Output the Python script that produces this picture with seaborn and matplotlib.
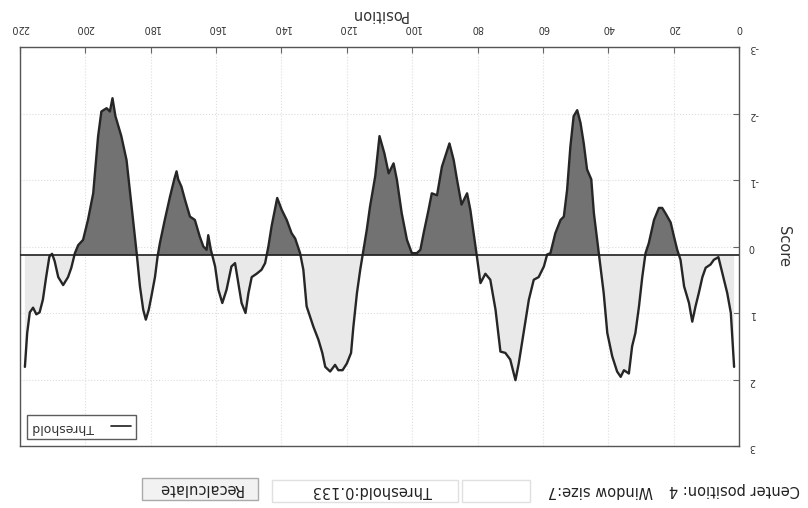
import numpy as np
import pandas as pd
import matplotlib
matplotlib.use("Agg")
import matplotlib.pyplot as plt
from matplotlib.patches import Rectangle
import seaborn as sns

# ---- data ----
positions = [1.5, 2.5, 3.6, 4.6, 5.6, 6.3, 7.7, 8.7, 10.2, 11.2, 12.3, 13.3, 14.3, 15.3, 16.8,
             17.9, 18.9, 19.9, 20.9, 22.5, 23.5, 24.5, 26.0, 27.6, 28.6, 29.6, 30.6, 31.7, 32.7,
             33.7, 35.2, 36.2, 37.3, 38.8, 40.3, 41.4, 42.4, 43.4, 44.4, 45.2, 46.5, 47.5, 48.5,
             49.5, 50.6, 51.6, 52.6, 53.6, 54.6, 56.2, 57.7, 58.7, 59.7, 61.3, 62.8, 64.3, 65.9,
             67.4, 68.4, 70.0, 71.5, 73.0, 74.5, 76.1, 77.6, 79.1, 80.2, 81.2, 82.2, 83.2, 84.9,
             86.3, 87.3, 88.6, 90.9, 92.4, 94.0, 95.0, 96.5, 97.5, 98.6, 100.1, 101.6, 103.2,
             104.7, 105.7, 107.2, 108.5, 110.0, 111.3, 112.9, 113.9, 114.9, 115.9, 116.9, 118.0,
             118.7, 120.0, 121.3, 122.6, 123.6, 125.1, 126.6, 127.5, 128.7, 130.2, 132.3, 133.3,
             134.3, 135.8, 136.9, 138.4, 139.9, 141.3, 143.0, 144.0, 145.0, 146.1, 147.6, 149.1,
             150.1, 151.0, 152.2, 153.2, 154.2, 155.3, 156.8, 158.1, 159.3, 160.3, 161.6, 162.4,
             162.9, 163.9, 165.0, 166.5, 168.0, 169.5, 170.6, 171.6, 172.1, 172.8, 174.1, 175.7,
             177.2, 177.9, 178.7, 179.8, 180.6, 181.5, 182.3, 183.3, 184.3, 185.4, 186.4, 187.4,
             189.0, 190.8, 191.7, 192.5, 193.5, 195.1, 196.1, 197.6, 199.2, 200.7, 202.2, 203.2,
             204.3, 205.3, 206.8, 208.3, 209.4, 210.2, 211.0, 212.0, 213.0, 214.0, 215.0, 216.0,
             217.0, 217.8, 218.5]
scores = [1.81, 1.00, 0.70, 0.50, 0.30, 0.16, 0.20, 0.27, 0.32, 0.46, 0.70, 0.90, 1.13, 0.85, 0.60,
          0.20, 0.05, -0.15, -0.36, -0.50, -0.58, -0.58, -0.40, -0.05, 0.10, 0.46, 0.90, 1.30, 1.50,
          1.91, 1.86, 1.96, 1.88, 1.65, 1.30, 0.70, 0.30, -0.10, -0.50, -1.01, -1.16, -1.55, -1.86,
          -2.05, -1.96, -1.50, -0.85, -0.45, -0.40, -0.20, 0.10, 0.12, 0.30, 0.46, 0.50, 0.80, 1.30,
          1.76, 2.01, 1.70, 1.60, 1.58, 0.95, 0.50, 0.41, 0.55, 0.15, -0.20, -0.55, -0.80, -0.63,
          -1.01, -1.30, -1.55, -1.20, -0.77, -0.80, -0.55, -0.20, 0.05, 0.10, 0.10, -0.10, -0.50,
          -1.01, -1.25, -1.10, -1.40, -1.66, -1.06, -0.60, -0.25, 0.05, 0.35, 0.70, 1.21,
          1.60, 1.76, 1.86, 1.86, 1.78, 1.88, 1.81, 1.60, 1.40, 1.21, 0.90, 0.35,
          0.10, -0.12, -0.20, -0.40, -0.55, -0.73, -0.31, 0.00, 0.25, 0.35, 0.41, 0.46,
          0.70, 1.00, 0.85, 0.55, 0.25, 0.30, 0.65, 0.85, 0.65, 0.30, 0.05, -0.17,
          0.05, 0.00, -0.15, -0.40, -0.45, -0.70, -0.90, -1.01, -1.13, -1.01, -0.75, -0.40,
          -0.05, 0.15, 0.46, 0.75, 0.95, 1.10, 0.95, 0.60, 0.10, -0.40, -0.85, -1.30,
          -1.66, -1.96, -2.23, -2.03, -2.08, -2.03, -1.66, -0.80, -0.40, -0.10, -0.02, 0.10,
          0.32, 0.46, 0.58, 0.46, 0.22, 0.11, 0.15, 0.46, 0.80, 0.99, 1.02, 0.92,
          0.99, 1.30, 1.81]
threshold = 0.133
x_ticks = [0, 20, 40, 60, 80, 100, 120, 140, 160, 180, 200, 220]
y_ticks = [-3, -2, -1, 0, 1, 2, 3]
ui_labels = ["Center position: 4", "Window size:7", "Threshold:0.133", "Recalculate"]

df = pd.DataFrame({"Position": positions, "Score": scores})

sns.set_style("white")
plt.rcParams["font.family"] = ["DejaVu Sans"]
plt.rcParams["axes.unicode_minus"] = False

W, H = 808, 508
fig = plt.figure(figsize=(W / 100, H / 100), dpi=100)
fig.patch.set_facecolor("white")

def fx(px):
    return px / W

def fy(py):
    return (H - py) / H

ax_l, ax_r, ax_t, ax_b = 20, 739, 47, 446
ax = fig.add_axes([fx(ax_l), fy(ax_b), fx(ax_r - ax_l), (ax_b - ax_t) / H])

x = np.array(positions)
y = np.array(scores)

# fills
ax.fill_between(x, y, threshold, where=y < threshold, interpolate=True,
                color="#727272", linewidth=0, zorder=1)
ax.fill_between(x, y, threshold, where=y > threshold, interpolate=True,
                color="#e9e9e9", linewidth=0, zorder=1)

sns.lineplot(data=df, x="Position", y="Score", ax=ax, color="#262626",
             linewidth=1.7, sort=False, estimator=None, zorder=3)
thr_line = ax.axhline(threshold, color="#1e1e1e", linewidth=1.2, zorder=4,
                      label="Threshold")

# rotated (upside-down) orientation
ax.set_xlim(220, 0)
ax.set_ylim(3, -3)
ax.set_xticks(x_ticks)
ax.set_yticks(y_ticks)
ax.xaxis.tick_top()
ax.xaxis.set_label_position("top")
ax.yaxis.tick_right()
ax.yaxis.set_label_position("right")
ax.tick_params(axis="both", direction="in", length=4, width=0.8, color="#666666",
               labelsize=7, labelcolor="#333333")
ax.tick_params(axis="x", pad=10, labelrotation=180)
ax.tick_params(axis="y", pad=7, labelrotation=180)

ax.grid(True, color="#dddddd", linestyle=":", linewidth=0.8)
ax.set_axisbelow(True)
for s in ax.spines.values():
    s.set_visible(True)
    s.set_color("#555555")
    s.set_linewidth(1.0)

ax.set_xlabel("Position", rotation=180, fontsize=10.5, color="#333333", labelpad=3)
ax.set_ylabel("Score", rotation=270, fontsize=10.5, color="#333333", labelpad=18,
              va="center")

leg = ax.legend(handles=[thr_line], loc="lower left", markerfirst=False, frameon=True,
                fancybox=False, edgecolor="#333333", fontsize=9, handlelength=1.6,
                handletextpad=1.3, borderpad=0.45, borderaxespad=0.55)
leg.get_frame().set_linewidth(1.0)
for t in leg.get_texts():
    t.set_rotation(180)
    t.set_color("#333333")

# bottom controls (upside down)
def box(x0, x1, y0, y1, fc, ec):
    fig.patches.append(Rectangle((fx(x0), fy(y1)), fx(x1 - x0), (y1 - y0) / H,
                                 transform=fig.transFigure, facecolor=fc,
                                 edgecolor=ec, linewidth=1.0, zorder=0))

box(142, 258, 478, 500, "#f2f2f2", "#aaaaaa")
box(272, 458, 480, 502, "white", "#e0e0e0")
box(462, 530, 480, 502, "white", "#e0e0e0")

fig.text(fx(734), fy(490), ui_labels[0], rotation=180, ha="center", va="center",
         fontsize=10.5, color="#222222")
fig.text(fx(600), fy(490), ui_labels[1], rotation=180, ha="center", va="center",
         fontsize=10.5, color="#222222")
fig.text(fx(372), fy(490), ui_labels[2], rotation=180, ha="center", va="center",
         fontsize=10.5, color="#222222")
fig.text(fx(200), fy(489), ui_labels[3], rotation=180, ha="center", va="center",
         fontsize=10.5, color="#222222")

fig.savefig("out.png", dpi=100)
